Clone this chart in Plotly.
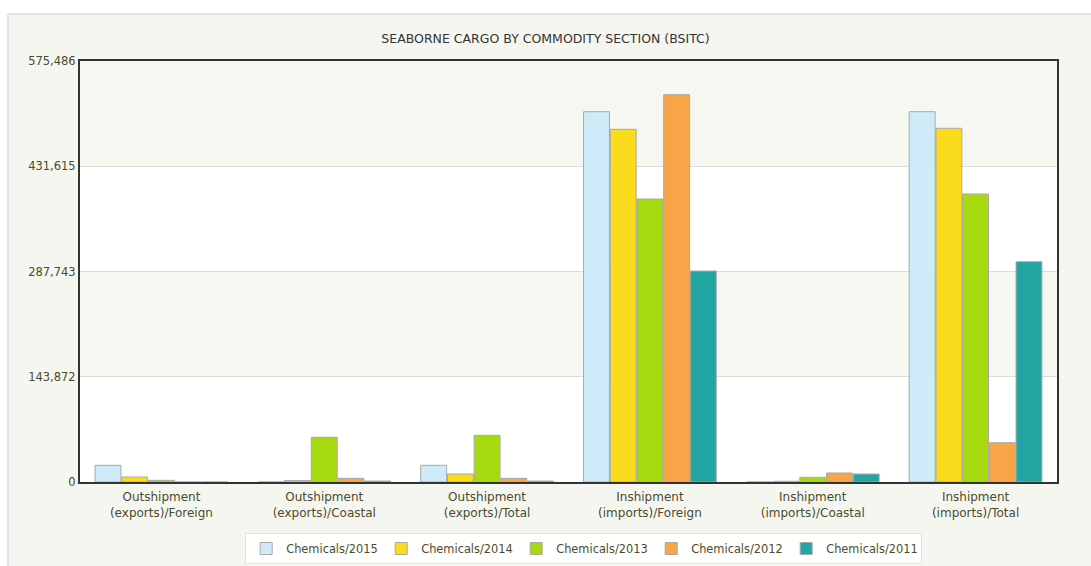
import plotly.graph_objects as go

categories = [
    "Outshipment<br>(exports)/Foreign",
    "Outshipment<br>(exports)/Coastal",
    "Outshipment<br>(exports)/Total",
    "Inshipment<br>(imports)/Foreign",
    "Inshipment<br>(imports)/Coastal",
    "Inshipment<br>(imports)/Total",
]
chem_2015 = [22800, 0, 22800, 506200, 0, 506200]
chem_2014 = [6800, 2000, 10900, 482100, 1000, 483500]
chem_2013 = [2300, 61100, 63800, 386800, 6400, 393700]
chem_2012 = [0, 5000, 5000, 529400, 12300, 53700]
chem_2011 = [0, 1300, 1300, 288400, 10900, 301100]

tick_vals = [0, 143872, 287743, 431615, 575486]
tick_text = ["0", "143,872", "287,743", "431,615", "575,486"]

series = [
    ("Chemicals/2015", chem_2015, "#cfeaf8"),
    ("Chemicals/2014", chem_2014, "#fbdc1c"),
    ("Chemicals/2013", chem_2013, "#a6da0e"),
    ("Chemicals/2012", chem_2012, "#f8a548"),
    ("Chemicals/2011", chem_2011, "#22a6a4"),
]

FONT = "DejaVu Sans"
LABEL = "#4b4b2c"

fig = go.Figure()
for name, vals, color in series:
    fig.add_trace(go.Bar(
        x=categories,
        y=vals,
        name=name,
        marker=dict(color=color, line=dict(color="#a8a8a8", width=1)),
    ))

shapes = [
    # outer chart frame
    dict(type="rect", xref="paper", yref="paper", x0=-0.0737, x1=1.1, y0=-0.25, y1=1.1116,
         fillcolor="#f6f6f1", line=dict(color="#cfcfcf", width=1), layer="below"),
]
# alternating bands between ticks
for i in range(len(tick_vals) - 1):
    shapes.append(dict(
        type="rect", xref="paper", yref="y", x0=0, x1=1,
        y0=tick_vals[i], y1=tick_vals[i + 1],
        fillcolor="#ffffff" if i % 2 == 0 else "#f7f7f2",
        line=dict(width=0), layer="below",
    ))

fig.update_layout(
    width=1091,
    height=566,
    margin=dict(l=80, r=34, t=61, b=84),
    paper_bgcolor="#ffffff",
    plot_bgcolor="rgba(0,0,0,0)",
    shapes=shapes,
    barmode="group",
    bargap=0.18,
    bargroupgap=0.03,
    font=dict(family=FONT, size=12, color=LABEL),
    title=dict(text="SEABORNE CARGO BY COMMODITY SECTION (BSITC)", x=0.5, xanchor="center",
               y=0.931, yanchor="middle", font=dict(family=FONT, size=12.5, color="#333333")),
    xaxis=dict(showline=True, linecolor="#333333", linewidth=2, mirror=True,
               ticks="", tickfont=dict(size=12, color=LABEL), showgrid=False,
               ticklabelstandoff=3, automargin=False),
    yaxis=dict(range=[0, 575486], tickvals=tick_vals, ticktext=tick_text,
               showline=True, linecolor="#333333", linewidth=2, mirror=True,
               gridcolor="#dcdcd6", gridwidth=1, zeroline=False, ticks="",
               tickfont=dict(size=11.5, color=LABEL), automargin=False),
    legend=dict(orientation="h", xref="container", yref="container",
                x=0.535, xanchor="center", y=0.0583, yanchor="top",
                bgcolor="#ffffff", bordercolor="#e2e2e2", borderwidth=1,
                font=dict(size=11.4, color=LABEL), entrywidth=90, entrywidthmode="pixels",
                itemwidth=30),
)

# drop the default body margin so the page is exactly the figure size
fig.write_html("out.html", config={"displayModeBar": False},
               post_script="document.body.style.margin='0';")
